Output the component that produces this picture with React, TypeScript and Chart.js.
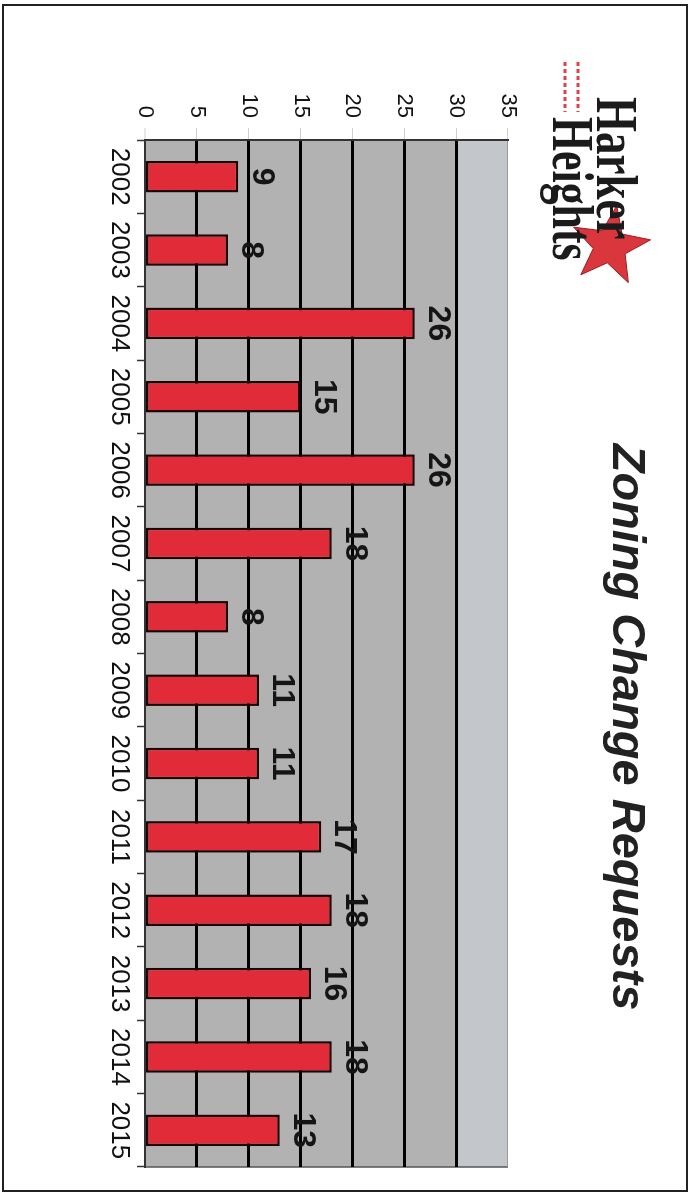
import { useEffect, useRef } from 'react';
import { Chart, registerables } from 'chart.js';

Chart.register(...registerables);

const years = ['2002', '2003', '2004', '2005', '2006', '2007', '2008', '2009', '2010', '2011', '2012', '2013', '2014', '2015'];
const requests = [9, 8, 26, 15, 26, 18, 8, 11, 11, 17, 18, 16, 18, 13];
const valueMin = 0;
const valueMax = 35;
const valueStep = 5;
const titleText = 'Zoning Change Requests';
const logoLines = ['Harker', 'Heights'];

const W = 1194;
const H = 694;
const SANS = '"Liberation Sans", Arial, sans-serif';
const SERIF = '"Liberation Serif", "Times New Roman", serif';

function drawStar(ctx: CanvasRenderingContext2D, cx: number, cy: number, R: number, r: number, rot: number) {
  ctx.beginPath();
  for (let i = 0; i < 10; i++) {
    const rad = i % 2 === 0 ? R : r;
    const a = rot - Math.PI / 2 + (i * Math.PI) / 5;
    const px = cx + rad * Math.cos(a);
    const py = cy + rad * Math.sin(a);
    if (i === 0) ctx.moveTo(px, py);
    else ctx.lineTo(px, py);
  }
  ctx.closePath();
}

const backgroundPlugin = {
  id: 'backgroundPlugin',
  beforeDraw(chart: any) {
    const ctx = chart.ctx as CanvasRenderingContext2D;
    const area = chart.chartArea;
    const y = chart.scales.y;
    ctx.save();
    ctx.fillStyle = '#ffffff';
    ctx.fillRect(0, 0, chart.width, chart.height);
    // frame
    ctx.strokeStyle = '#222';
    ctx.lineWidth = 2;
    ctx.strokeRect(5, 7, 1186, 684);
    // plot background
    ctx.fillStyle = '#b2b2b2';
    ctx.fillRect(area.left, area.top, area.right - area.left, area.bottom - area.top);
    const y30 = y.getPixelForValue(30);
    ctx.fillStyle = '#c3c7cb';
    ctx.fillRect(area.left, area.top, area.right - area.left, y30 - area.top);
    ctx.strokeStyle = '#9a9a9a';
    ctx.lineWidth = 1;
    ctx.beginPath();
    ctx.moveTo(area.left, area.top + 0.5);
    ctx.lineTo(area.right, area.top + 0.5);
    ctx.stroke();
    ctx.strokeStyle = '#555';
    ctx.lineWidth = 1.5;
    ctx.beginPath();
    ctx.moveTo(area.right, area.top);
    ctx.lineTo(area.right, area.bottom);
    ctx.stroke();

    // title
    ctx.fillStyle = '#222';
    ctx.font = `italic bold 47px ${SANS}`;
    ctx.textAlign = 'center';
    ctx.textBaseline = 'alphabetic';
    ctx.fillText(titleText, 727, 81);

    // logo star
    drawStar(ctx, 246, 84, 41, 17, -0.15);
    ctx.fillStyle = '#d9363e';
    ctx.fill();
    ctx.strokeStyle = '#9c1c22';
    ctx.lineWidth = 1;
    ctx.stroke();

    // logo text
    ctx.fillStyle = '#1b1b1b';
    ctx.font = `bold 60px ${SERIF}`;
    ctx.textAlign = 'left';
    ctx.save();
    ctx.translate(97, 97);
    ctx.scale(0.75, 1);
    ctx.fillText(logoLines[0], 0, 0);
    ctx.restore();
    ctx.save();
    ctx.translate(117, 141);
    ctx.scale(0.73, 1);
    ctx.fillText(logoLines[1], 0, 0);
    ctx.restore();

    // red decorative marks
    ctx.strokeStyle = '#e0404a';
    ctx.lineWidth = 3;
    ctx.setLineDash([4, 3]);
    ctx.beginPath();
    ctx.moveTo(62, 116);
    ctx.lineTo(112, 116);
    ctx.moveTo(62, 129);
    ctx.lineTo(112, 129);
    ctx.stroke();
    ctx.setLineDash([]);
    ctx.restore();
  },
};

const valueLabelPlugin = {
  id: 'valueLabelPlugin',
  afterDatasetsDraw(chart: any) {
    const ctx = chart.ctx as CanvasRenderingContext2D;
    const meta = chart.getDatasetMeta(0);
    ctx.save();
    ctx.fillStyle = '#151515';
    ctx.font = `bold 32px ${SANS}`;
    ctx.textAlign = 'center';
    ctx.textBaseline = 'middle';
    meta.data.forEach((bar: any, i: number) => {
      ctx.fillText(String(requests[i]), bar.x, bar.y - 23);
    });
    ctx.restore();
  },
};

export default function App() {
  const ref = useRef<HTMLCanvasElement>(null);

  useEffect(() => {
    const canvas = ref.current;
    if (!canvas) return;
    const chart = new Chart(canvas, {
      type: 'bar',
      data: {
        labels: years,
        datasets: [
          {
            data: requests,
            backgroundColor: '#e12b38',
            borderColor: '#1e0505',
            borderWidth: 2.5,
            borderSkipped: false,
            barPercentage: 0.43,
            categoryPercentage: 1,
          },
        ],
      },
      options: {
        responsive: false,
        animation: false,
        devicePixelRatio: 1,
        layout: { padding: { left: 90, right: 27, top: 186, bottom: 105 } },
        plugins: {
          legend: { display: false },
          tooltip: { enabled: false },
          title: { display: false },
        },
        scales: {
          x: {
            offset: true,
            grid: {
              display: true,
              drawOnChartArea: false,
              drawTicks: true,
              tickLength: 8,
              tickColor: '#333',
              tickWidth: 1.5,
              offset: true,
            },
            border: { display: true, color: '#333', width: 2 },
            ticks: {
              color: '#111',
              font: { family: SANS, size: 26 },
              padding: 2,
              maxRotation: 0,
              autoSkip: false,
            },
            afterFit: (s: any) => {
              s.height = 40;
            },
          },
          y: {
            min: valueMin,
            max: valueMax,
            ticks: {
              stepSize: valueStep,
              color: '#111',
              font: { family: SANS, size: 22 },
              padding: 10,
            },
            grid: {
              color: (c: any) => (c.tick && c.tick.value === valueMax ? '#9a9a9a' : c.tick && c.tick.value === 0 ? '#333' : '#000'),
              lineWidth: (c: any) => (c.tick && c.tick.value === valueMax ? 1 : c.tick && c.tick.value === 0 ? 2 : 3),
              drawTicks: true,
              tickLength: 12,
              tickColor: '#cfcfcf',
              tickWidth: 1,
            },
            border: { display: true, color: '#333', width: 2 },
            afterFit: (s: any) => {
              s.width = 50;
            },
          },
        },
      } as any,
      plugins: [backgroundPlugin, valueLabelPlugin],
    });
    return () => chart.destroy();
  }, []);

  return (
    <div style={{ position: 'absolute', left: 0, top: 0, width: 694, height: 1194, overflow: 'hidden', background: '#fff' }}>
      <div
        style={{
          position: 'absolute',
          left: 0,
          top: 0,
          width: W,
          height: H,
          transformOrigin: '0 0',
          transform: 'translate(694px, 0px) rotate(90deg)',
        }}
      >
        <canvas ref={ref} width={W} height={H} style={{ display: 'block', width: W, height: H }} />
      </div>
    </div>
  );
}
